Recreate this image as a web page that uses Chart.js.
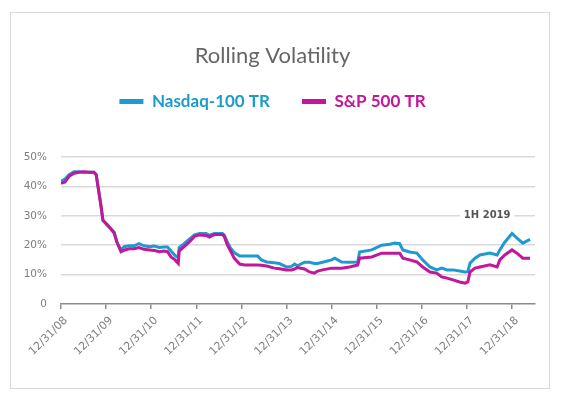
<!DOCTYPE html>
<html>
<head>
<meta charset="utf-8">
<script src="https://cdn.jsdelivr.net/npm/chart.js@4/dist/chart.umd.min.js"></script>
<style>
  html, body { margin: 0; padding: 0; background: #ffffff; }
  #wrap { position: relative; width: 563px; height: 400px; }
  #frame { position: absolute; left: 10px; top: 12px; width: 538px; height: 375px; border: 1px solid #d9d9d9; box-sizing: content-box; pointer-events: none; }
  canvas { position: absolute; left: 0; top: 0; }
</style>
</head>
<body>
<div id="wrap">
  <canvas id="c" width="563" height="400"></canvas>
  <div id="frame"></div>
</div>
<script>
// ---- data ----
const X_START = 2009;   // 12/31/08 expressed as a decimal year
const X_END = 2019.51;
const xTickLabels = ['12/31/08','12/31/09','12/31/10','12/31/11','12/31/12','12/31/13','12/31/14','12/31/15','12/31/16','12/31/17','12/31/18'];
const yTickLabels = ['0','10%','20%','30%','40%','50%'];
const seriesNames = ['Nasdaq-100 TR', 'S&P 500 TR'];
const note = { text: '1H 2019', x: 2018.45, y: 30 };

const dates = [2009.00,2009.09,2009.18,2009.29,2009.40,2009.51,2009.62,2009.73,2009.78,2009.84,2009.89,2009.93,
  2010.02,2010.11,2010.18,2010.24,2010.33,2010.40,2010.51,2010.62,2010.73,2010.84,2010.96,
  2011.07,2011.18,2011.29,2011.36,2011.44,2011.53,2011.60,2011.62,2011.73,2011.84,2011.96,
  2012.07,2012.22,2012.29,2012.40,2012.58,2012.62,2012.69,2012.76,2012.84,2012.96,
  2013.07,2013.18,2013.36,2013.44,2013.56,2013.73,2013.84,
  2014.00,2014.11,2014.18,2014.24,2014.40,2014.51,2014.62,2014.69,2014.80,
  2015.00,2015.07,2015.22,2015.40,2015.58,2015.62,2015.89,
  2016.11,2016.29,2016.40,2016.51,2016.58,2016.73,2016.89,
  2017.02,2017.18,2017.33,2017.44,2017.56,2017.69,2017.84,2017.96,
  2018.02,2018.07,2018.18,2018.29,2018.51,2018.67,2018.73,2018.84,
  2019.00,2019.11,2019.24,2019.40];

const nasdaq100 = [41.8,42.5,44.0,45.0,45.0,44.8,44.8,44.8,44.0,38.0,33.0,28.5,
  27.0,25.5,24.5,21.0,18.4,19.5,19.8,19.8,20.5,19.8,19.5,
  19.7,19.2,19.4,19.4,18.0,16.5,15.8,19.2,20.5,22.0,23.5,
  24.0,24.0,23.4,24.0,24.0,23.5,21.0,19.0,17.5,16.3,
  16.3,16.3,16.3,15.0,14.3,14.0,13.8,
  12.6,12.8,13.6,13.0,14.2,14.2,13.8,13.8,14.2,
  15.0,15.6,14.3,14.2,14.3,17.7,18.4,
  20.0,20.3,20.7,20.5,18.4,17.7,17.3,
  15.0,12.6,11.6,12.2,11.6,11.6,11.2,10.9,
  11.0,13.9,15.6,16.7,17.3,16.7,18.4,21.0,
  24.0,22.4,20.7,22.0];

const sp500 = [41.0,41.5,43.5,44.5,44.8,45.0,44.8,44.8,44.0,38.0,33.0,28.5,
  27.0,25.5,24.0,21.0,17.8,18.3,18.8,18.8,19.2,18.6,18.4,
  18.2,17.8,18.0,17.8,16.0,15.0,13.8,18.0,19.5,21.0,23.0,
  23.5,23.3,22.8,23.6,23.6,23.0,20.0,18.0,15.6,13.6,
  13.3,13.3,13.3,13.2,12.9,12.2,12.0,
  11.6,11.6,11.9,12.4,11.9,10.9,10.5,11.2,11.6,
  12.2,12.2,12.2,12.6,13.3,15.6,16.0,
  17.3,17.3,17.3,17.3,15.6,15.0,14.3,
  12.6,10.9,10.5,9.2,8.8,8.2,7.5,7.1,
  7.5,10.9,12.2,12.6,13.3,12.6,15.0,16.7,
  18.4,17.3,15.6,15.6];

const BLUE = '#1e9bce';
const MAGENTA = '#c2169b';

// ---- chart ----
const toPoints = (arr) => dates.map((d, i) => ({ x: d, y: arr[i] }));

const legendHeightPlugin = {
  id: 'legendHeight',
  beforeInit(chart) {
    const origFit = chart.legend.fit;
    chart.legend.fit = function () {
      origFit.bind(chart.legend)();
      this.height = 96;
    };
  }
};

const notePlugin = {
  id: 'note',
  afterDatasetsDraw(chart) {
    const { ctx, scales } = chart;
    const px = scales.x.getPixelForValue(note.x);
    const py = scales.y.getPixelForValue(note.y);
    ctx.save();
    ctx.font = 'bold 10px "DejaVu Sans"';
    const w = ctx.measureText(note.text).width;
    ctx.fillStyle = '#ffffff';
    ctx.fillRect(px - w / 2 - 4, py - 7, w + 8, 14);
    ctx.fillStyle = '#555555';
    ctx.textAlign = 'center';
    ctx.textBaseline = 'middle';
    ctx.fillText(note.text, px, py);
    ctx.restore();
  }
};

new Chart(document.getElementById('c'), {
  type: 'line',
  data: {
    datasets: [
      { label: seriesNames[0], data: toPoints(nasdaq100), borderColor: BLUE, backgroundColor: BLUE,
        borderWidth: 3, pointRadius: 0, tension: 0, order: 2 },
      { label: seriesNames[1], data: toPoints(sp500), borderColor: MAGENTA, backgroundColor: MAGENTA,
        borderWidth: 3, pointRadius: 0, tension: 0, order: 1 }
    ]
  },
  options: {
    responsive: false,
    animation: false,
    devicePixelRatio: 1,
    layout: { padding: { left: 10, right: 28, top: 0, bottom: 0 } },
    plugins: {
      title: {
        display: true,
        text: 'Rolling Volatility',
        color: '#666666',
        font: { family: 'Lato', size: 22, weight: 'normal', lineHeight: '10px' },
        padding: { top: 51, bottom: 0 }
      },
      legend: {
        display: true,
        position: 'top',
        labels: {
          boxWidth: 24,
          boxHeight: 5,
          padding: 32,
          font: { family: 'Lato', size: 17, weight: 'bold' },
          generateLabels(chart) {
            const cols = [BLUE, MAGENTA];
            return seriesNames.map((name, i) => ({
              text: name, fillStyle: cols[i], strokeStyle: cols[i], lineWidth: 0,
              fontColor: cols[i], hidden: false, datasetIndex: i
            }));
          }
        }
      },
      tooltip: { enabled: false }
    },
    scales: {
      x: {
        type: 'linear',
        min: X_START,
        max: X_END,
        afterFit(scale) { scale.height = 96; },
        border: { display: true, color: '#8c8c8c', width: 1.5 },
        grid: { display: true, drawOnChartArea: false, drawTicks: true, tickLength: 5, color: '#8c8c8c', lineWidth: 1.5 },
        ticks: {
          stepSize: 1,
          includeBounds: false,
          minRotation: 45,
          maxRotation: 45,
          padding: 5,
          labelOffset: 5,
          color: '#7f7f7f',
          font: { family: 'DejaVu Sans', size: 11 },
          callback: (v) => xTickLabels[Math.round(v - X_START)]
        }
      },
      y: {
        min: 0,
        max: 50,
        afterFit(scale) { scale.width = 51; },
        border: { display: false },
        grid: {
          drawTicks: false,
          color: (c) => (c.tick && c.tick.value === 0 ? 'rgba(0,0,0,0)' : '#d9d9d9'),
          lineWidth: 1.5
        },
        ticks: {
          stepSize: 10,
          padding: 14,
          color: '#7f7f7f',
          font: { family: 'DejaVu Sans', size: 10.5 },
          callback: (v) => yTickLabels[Math.round(v / 10)]
        }
      }
    }
  },
  plugins: [legendHeightPlugin, notePlugin]
});
</script>
</body>
</html>
